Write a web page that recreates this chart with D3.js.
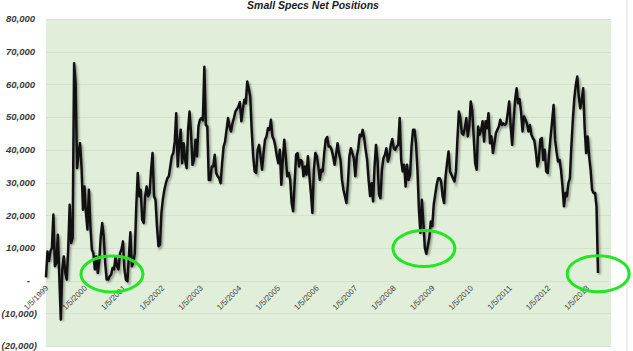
<!DOCTYPE html>
<html>
<head>
<meta charset="utf-8">
<script src="https://cdn.jsdelivr.net/npm/d3@7"></script>
<style>
  html, body { margin: 0; padding: 0; background: #fff; }
</style>
</head>
<body>
<div id="chartContainer"></div>
<script>
const title = "Small Specs Net Positions";
const startDate = "1999-01-05";
const stepWeeks = 2;
const tickLabels = ["1/5/1999", "1/5/2000", "1/5/2001", "1/5/2002", "1/5/2003", "1/5/2004", "1/5/2005",
    "1/5/2006", "1/5/2007", "1/5/2008", "1/5/2009", "1/5/2010", "1/5/2011", "1/5/2012", "1/5/2013"];
const netPositions = [
    1000, 8900, 6000, 9000, 10000, 20200, 4400, 5400, 14000, 1300,
    -11900, 3400, 7400, 2500, 300, 9500, 23200, 11500, 13000, 66500,
    60400, 34400, 39000, 42000, 34900, 21700, 28800, 20700, 15600, 27800,
    16600, 9500, 8400, 3400, 7400, 2300, 6000, 13500, 17600, 13500,
    5400, 300, 300, 1300, 1800, 3900, 3400, 7400, 4400, 3400,
    8400, 9500, 12000, 3400, 300, -200, 7400, 14800, 4400, 5400,
    8400, 22700, 32900, 25800, 27800, 18600, 17600, 25800, 28800, 25800,
    26800, 33900, 39000, 25800, 24700, 16600, 10500, 11000, 20700, 25000,
    27800, 29800, 31300, 31900, 34900, 38000, 39000, 42500, 51200, 34900,
    42000, 46100, 35900, 42000, 36900, 34400, 46100, 51700, 45100, 35400,
    36900, 43100, 38000, 47100, 49200, 49700, 49000, 65400, 47600, 47100,
    30800, 30800, 34900, 34900, 38500, 32900, 31900, 31300, 29800, 35900,
    41000, 42500, 46100, 49700, 47100, 45600, 48100, 49700, 51700, 52400,
    53200, 54600, 48700, 52200, 55300, 54200, 60900, 58800, 56300, 46100,
    38000, 33400, 32900, 40000, 41500, 38000, 33900, 39000, 43100, 44100,
    46600, 46100, 49200, 44100, 43100, 41000, 38000, 35900, 40000, 29300,
    36900, 43100, 38000, 31900, 32900, 30800, 23700, 21200, 29800, 38500,
    39000, 34900, 36900, 36400, 31900, 34900, 32400, 38000, 31900, 26800,
    20700, 33900, 39000, 38000, 34900, 30800, 33900, 33400, 39000, 43100,
    43900, 41000, 41000, 40000, 38000, 35400, 38500, 42000, 39000, 36900,
    30800, 27800, 25800, 23700, 29800, 38000, 40500, 39000, 37400, 31900,
    38000, 40500, 44600, 44100, 46100, 43600, 40000, 36900, 30800, 25800,
    29800, 24200, 34900, 41500, 36900, 26300, 25200, 33900, 37400, 38500,
    40500, 36400, 38000, 41500, 43300, 40500, 40000, 41000, 41500, 49700,
    36900, 33400, 35400, 28800, 35400, 30800, 32400, 41000, 46100, 46100,
    42000, 33900, 21700, 14600, 24700, 17600, 10000, 8200, 10500, 13000,
    18100, 16600, 23200, 26300, 29300, 31300, 31300, 30300, 25800, 23700,
    31900, 35900, 39500, 33400, 32400, 31300, 30300, 33400, 43100, 51700,
    49700, 45100, 44600, 46600, 49700, 44100, 47100, 54800, 52200, 44100,
    35900, 33900, 47100, 44600, 46100, 48700, 42500, 48700, 46600, 51200,
    42000, 44100, 39000, 42000, 45100, 46100, 47100, 49200, 47600, 48100,
    47600, 48100, 51200, 54800, 47100, 41500, 49200, 55300, 58800, 54200,
    55500, 51700, 45600, 50200, 49200, 48000, 45600, 47600, 44600, 43600,
    42800, 39500, 34900, 36900, 43100, 43600, 36900, 40000, 33400, 32900,
    39000, 44100, 48700, 53700, 43100, 39300, 36400, 36900, 33900, 28800,
    22700, 26800, 25800, 29800, 31300, 41000, 49200, 55800, 59800, 62400,
    56300, 52700, 55300, 58800, 46600, 39000, 44100, 38000, 33900, 27800,
    26800, 26800, 22700, 2300
];
// Green circles drawn on the chart around the lows
const highlightDates = ["2000-09-20", "2008-10-19", "2013-04-25"];
const highlightValues = [2000, 9800, 2100];

function createChart() {
    // Specify the chart’s dimensions.
    const width = 633;
    const height = 351;
    const plot = { left: 46, right: 611, top: 19, bottom: 346 };

    const parseDate = d3.timeParse("%Y-%m-%d");
    const parseTick = d3.timeParse("%-m/%-d/%Y");
    const start = parseDate(startDate);
    const data = netPositions.map((v, i) => ({ date: d3.timeWeek.offset(start, i * stepWeeks), value: v }));

    // Create the scales.
    const x = d3.scaleTime()
        .domain(d3.extent(data, d => d.date))
        .range([plot.left, 598]);
    const y = d3.scaleLinear()
        .domain([-20000, 80000])
        .range([plot.bottom, plot.top]);

    // Create the SVG container.
    const svg = d3.create("svg")
        .attr("width", width)
        .attr("height", height)
        .attr("viewBox", `0 0 ${width} ${height}`)
        .attr("style", "display:block; background:#fff;");

    svg.append("defs")
        .append("filter")
        .attr("id", "shadow")
        .append("feGaussianBlur")
        .attr("stdDeviation", 0.9);

    // Chart border line at the right.
    svg.append("line")
        .attr("x1", 627).attr("x2", 627)
        .attr("y1", 0).attr("y2", height)
        .attr("stroke", "#dcdcdc");

    // Plot area.
    svg.append("rect")
        .attr("x", plot.left)
        .attr("y", plot.top)
        .attr("width", plot.right - plot.left)
        .attr("height", plot.bottom - plot.top)
        .attr("fill", "#e1efda");

    // Gridlines.
    svg.append("g")
        .selectAll("line")
        .data(y.ticks(10))
        .join("line")
        .attr("x1", plot.left)
        .attr("x2", plot.right)
        .attr("y1", d => Math.round(y(d)) + 0.5)
        .attr("y2", d => Math.round(y(d)) + 0.5)
        .attr("stroke", "#d4e1cd")
        .attr("stroke-width", 1);

    // Y axis labels (accounting style).
    const fmt = d3.format(",");
    svg.append("g")
        .style("font", "italic bold 9.5px 'Liberation Sans', Arial, sans-serif")
        .attr("fill", "#3a3a3a")
        .attr("text-anchor", "end")
        .selectAll("text")
        .data(y.ticks(10))
        .join("text")
        .attr("x", d => d < 0 ? 37 : d === 0 ? 30 : 35)
        .attr("y", d => y(d))
        .attr("dy", "0.35em")
        .text(d => d < 0 ? `(${fmt(-d)})` : d === 0 ? "-" : fmt(d));

    // X axis labels, rotated.
    svg.append("g")
        .style("font", "8px 'Liberation Sans', Arial, sans-serif")
        .attr("fill", "#444")
        .attr("text-anchor", "end")
        .selectAll("text")
        .data(tickLabels)
        .join("text")
        .attr("transform", d => `translate(${x(parseTick(d)) + 3},${y(0) + 8}) rotate(-45)`)
        .text(d => d);

    // The line with its shadow.
    const line = d3.line()
        .x(d => x(d.date))
        .y(d => y(d.value));

    svg.append("path")
        .datum(data)
        .attr("d", line)
        .attr("fill", "none")
        .attr("stroke", "#000")
        .attr("stroke-opacity", 0.35)
        .attr("stroke-width", 2.8)
        .attr("transform", "translate(1.5,1.5)")
        .attr("filter", "url(#shadow)");

    svg.append("path")
        .datum(data)
        .attr("d", line)
        .attr("fill", "none")
        .attr("stroke", "#111")
        .attr("stroke-width", 2.5)
        .attr("stroke-linejoin", "round");

    // Green highlight ellipses.
    svg.append("g")
        .selectAll("ellipse")
        .data(highlightDates)
        .join("ellipse")
        .attr("cx", d => x(parseDate(d)))
        .attr("cy", (d, i) => y(highlightValues[i]))
        .attr("rx", 31)
        .attr("ry", 18)
        .attr("fill", "none")
        .attr("stroke", "#22e622")
        .attr("stroke-width", 3);

    // Title.
    svg.append("text")
        .attr("x", 313)
        .attr("y", 9)
        .attr("text-anchor", "middle")
        .style("font", "italic bold 10.5px 'Liberation Sans', Arial, sans-serif")
        .attr("fill", "#1a1a1a")
        .text(title);

    return svg.node();
}

document.addEventListener('DOMContentLoaded', function () {
    const chart = createChart();
    document.getElementById('chartContainer').appendChild(chart);
});
</script>
</body>
</html>
